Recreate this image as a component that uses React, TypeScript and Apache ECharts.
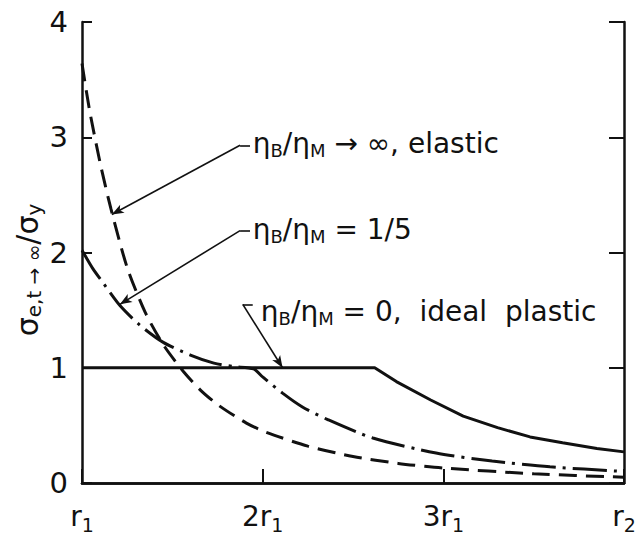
import React, { useEffect, useRef } from "react";
import * as echarts from "echarts";

// ---- data (r in units of r1, sigma in units of sigma_y) ----
const xTicks = [1, 2, 3, 4];
const xTickMain = ["r", "2r", "3r", "r"];
const xTickSub = ["1", "1", "1", "2"];
const yTicks = [0, 1, 2, 3, 4];

const elasticR = [1, 1.04, 1.1, 1.16, 1.25, 1.35, 1.45, 1.56, 1.66, 1.76, 1.91, 2.02, 2.25, 2.5, 2.75, 3.0, 3.5, 4.0];
const elasticS = [3.64, 3.25, 2.78, 2.38, 1.87, 1.48, 1.2, 0.97, 0.8, 0.67, 0.52, 0.44, 0.32, 0.23, 0.17, 0.13, 0.08, 0.05];

const fifthR = [1, 1.06, 1.12, 1.21, 1.32, 1.45, 1.6, 1.73, 1.84, 1.95, 2.0, 2.11, 2.22, 2.36, 2.61, 2.96, 3.27, 3.59, 4.0];
const fifthS = [2.02, 1.86, 1.73, 1.54, 1.37, 1.22, 1.11, 1.04, 1.01, 0.99, 0.92, 0.78, 0.66, 0.55, 0.39, 0.26, 0.19, 0.14, 0.1];

const plasticR = [1, 2.62, 2.74, 2.93, 3.11, 3.3, 3.48, 3.66, 3.85, 4.0];
const plasticS = [1, 1, 0.88, 0.72, 0.58, 0.48, 0.4, 0.35, 0.3, 0.27];

// annotations: rich label, arrow tip, elbow, end of short horizontal, text anchor (data coords)
const annoText = [
  "{m|η}{s|B}{m|/η}{s|M}{m| → ∞, elastic}",
  "{m|η}{s|B}{m|/η}{s|M}{m| = 1/5}",
  "{m|η}{s|B}{m|/η}{s|M}{m| = 0,  ideal  plastic}",
];
const annoTip = [[1.165, 2.33], [1.21, 1.55], [2.11, 1.0]];
const annoElbow = [[1.875, 2.93], [1.875, 2.19], [1.89, 1.55]];
const annoEnd = [[1.93, 2.93], [1.93, 2.19], [1.945, 1.55]];
const annoAnchor = [[1.945, 2.95], [1.945, 2.2], [1.99, 1.49]];

const FONT = "DejaVu Sans";
const INK = "#111";

const zip = (a: number[], b: number[]) => a.map((v, i) => [v, b[i]]);

export default function App() {
  const ref = useRef<HTMLDivElement>(null);
  useEffect(() => {
    if (!ref.current) return;
    const chart = echarts.init(ref.current, null, { renderer: "svg" });

    const leader = (i: number) => [
      [
        { coord: annoTip[i], symbol: "arrow", symbolSize: [7, 12] },
        { coord: annoElbow[i], symbol: "none" },
      ],
      [
        { coord: annoElbow[i], symbol: "none" },
        { coord: annoEnd[i], symbol: "none" },
      ],
    ];
    const markLine = (i: number) => ({
      silent: true,
      animation: false,
      symbol: ["none", "none"],
      label: { show: false },
      lineStyle: { type: "solid", width: 1.6, color: INK },
      emphasis: { disabled: true },
      data: leader(i),
    });

    const axisLine = { show: true, lineStyle: { color: INK, width: 2.5 } };
    const option: any = {
      animation: false,
      backgroundColor: "#fff",
      grid: { left: 82, right: 15, top: 22, bottom: 54 },
      xAxis: [
        {
          type: "value",
          min: 1,
          max: 4,
          interval: 1,
          position: "bottom",
          axisLine,
          axisTick: { show: true, inside: true, length: 14, lineStyle: { color: INK, width: 2 } },
          splitLine: { show: false },
          axisLabel: {
            margin: 16,
            formatter: (v: number) => {
              const i = xTicks.indexOf(v);
              return i < 0 ? "" : `{m|${xTickMain[i]}}{s|${xTickSub[i]}}`;
            },
            rich: {
              m: { fontSize: 28, fontFamily: FONT, color: INK },
              s: { fontSize: 19, fontFamily: FONT, color: INK, padding: [16, 0, 0, 0] },
            },
          },
        },
        {
          type: "value",
          min: 1,
          max: 4,
          position: "top",
          axisLine,
          axisTick: { show: false },
          axisLabel: { show: false },
          splitLine: { show: false },
        },
      ],
      yAxis: [
        {
          type: "value",
          min: 0,
          max: 4,
          interval: 1,
          position: "left",
          axisLine,
          axisTick: { show: true, inside: true, length: 10, lineStyle: { color: INK, width: 2 } },
          splitLine: { show: false },
          axisLabel: {
            margin: 14,
            fontSize: 29,
            fontFamily: FONT,
            color: INK,
            formatter: (v: number) => (yTicks.includes(v) ? String(v) : ""),
          },
        },
        {
          type: "value",
          min: 0,
          max: 4,
          interval: 1,
          position: "right",
          axisLine,
          axisTick: { show: true, inside: true, length: 15, lineStyle: { color: INK, width: 2 } },
          axisLabel: { show: false },
          splitLine: { show: false },
        },
      ],
      series: [
        {
          name: "elastic",
          type: "line",
          data: zip(elasticR, elasticS),
          showSymbol: false,
          smooth: 0.25,
          lineStyle: { color: INK, width: 3, type: [18, 9] },
          markLine: markLine(0),
        },
        {
          name: "1/5",
          type: "line",
          data: zip(fifthR, fifthS),
          showSymbol: false,
          smooth: 0.25,
          lineStyle: { color: INK, width: 3, type: [34, 7, 3, 7] },
          markLine: markLine(1),
        },
        {
          name: "plastic",
          type: "line",
          data: zip(plasticR, plasticS),
          showSymbol: false,
          smooth: false,
          lineStyle: { color: INK, width: 3, type: "solid" },
          markLine: markLine(2),
        },
      ],
    };
    chart.setOption(option);

    const rich = {
      m: { fontSize: 28, fontFamily: FONT, fill: INK },
      s: { fontSize: 18, fontFamily: FONT, fill: INK, padding: [14, 0, 0, 0] },
    };
    const texts: any[] = annoText.map((t, i) => {
      const p = chart.convertToPixel({ gridIndex: 0 }, annoAnchor[i]) as number[];
      return {
        type: "text",
        x: p[0],
        y: p[1],
        silent: true,
        style: { text: t, align: "left", verticalAlign: "middle", fill: INK, rich },
      };
    });
    texts.push({
      type: "text",
      x: 27,
      y: 270,
      silent: true,
      rotation: Math.PI / 2,
      style: {
        text: "{m|σ}{s|e,t → ∞}{m|/σ}{s|y}",
        align: "center",
        verticalAlign: "middle",
        fill: INK,
        rich: {
          m: { fontSize: 30, fontFamily: FONT, fill: INK },
          s: { fontSize: 20, fontFamily: FONT, fill: INK, padding: [14, 0, 0, 0] },
        },
      },
    });
    chart.setOption({ graphic: texts });

    return () => chart.dispose();
  }, []);
  return (
    <div
      ref={ref}
      style={{ position: "fixed", left: 0, top: 0, width: 639, height: 537, background: "#fff" }}
    />
  );
}
